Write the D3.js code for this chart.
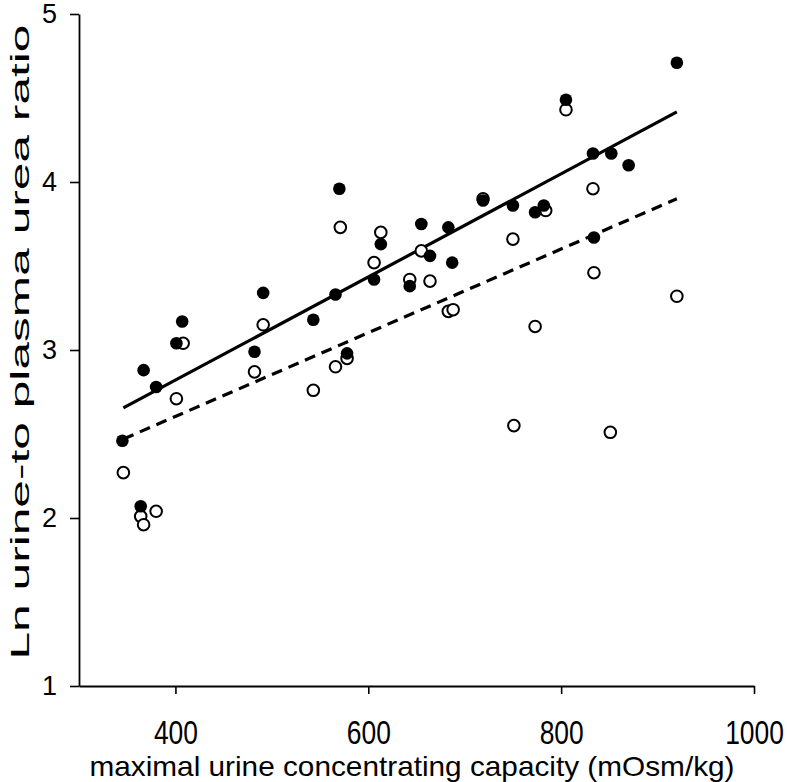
<!DOCTYPE html>
<html>
<head>
<meta charset="utf-8">
<script src="https://cdn.jsdelivr.net/npm/d3@7"></script>
<style>
html,body{margin:0;padding:0;background:#fff;}
svg{display:block;}
</style>
</head>
<body>
<svg id="chart" width="787" height="782"></svg>
<script>
// Filled circles (series 1)
const filledX = [345,364,367,380,401,407,482,491,543,566,570,578,606,613,643,655,664,683,687,719,750,773,782,805,833,834,852,870,920];
const filledY = [2.46,2.07,2.88,2.78,3.04,3.17,2.99,3.34,3.18,3.33,3.96,2.98,3.42,3.63,3.38,3.75,3.56,3.73,3.52,3.89,3.86,3.82,3.86,4.49,4.17,3.67,4.17,4.10,4.71];
// Open circles (series 2)
const openX = [346,364,367,380,401,408,482,491,543,566,571,578,606,613,643,655,664,683,688,719,750,751,773,784,805,833,834,851,920];
const openY = [2.27,2.01,1.96,2.04,2.71,3.04,2.87,3.15,2.76,2.90,3.73,2.95,3.52,3.70,3.42,3.59,3.41,3.23,3.24,3.90,3.66,2.55,3.14,3.83,4.43,3.96,3.46,2.51,3.32];
// Regression lines [x0, x1], [y0, y1]
const solidLineX = [346, 920];
const solidLineY = [2.655, 4.417];
const dashedLineX = [346, 920];
const dashedLineY = [2.47, 3.90];
// Axes
const xTicks = [400, 600, 800, 1000];
const yTicks = [1, 2, 3, 4, 5];
const xDomain = [300, 1000];
const yDomain = [1, 5];
const xLabel = "maximal urine concentrating capacity (mOsm/kg)";
const yLabel = "Ln urine-to plasma urea ratio";

const svg = d3.select("#chart");
const x = d3.scaleLinear().domain(xDomain).range([79, 754]);
const y = d3.scaleLinear().domain(yDomain).range([686, 14]);
const FONT = "'Liberation Sans', Arial, Helvetica, sans-serif";

// X axis
const gx = svg.append("g").attr("transform", "translate(0,686)")
  .call(d3.axisBottom(x).tickValues(xTicks).tickFormat(d3.format("d"))
    .tickSize(8).tickPadding(28).tickSizeOuter(0));
gx.select(".domain").attr("stroke", "#000").attr("stroke-width", 1.8);
gx.selectAll(".tick line").attr("stroke", "#000").attr("stroke-width", 1.6);
gx.selectAll(".tick text").attr("font-family", FONT)
  .attr("font-size", 33).attr("fill", "#000")
  .attr("dy", null).attr("y", 58)
  .attr("transform", "scale(0.8,1)");

// Y axis
const gy = svg.append("g").attr("transform", "translate(79,0)")
  .call(d3.axisLeft(y).tickValues(yTicks).tickFormat(d3.format("d"))
    .tickSize(9).tickPadding(13).tickSizeOuter(0));
gy.select(".domain").attr("stroke", "#000").attr("stroke-width", 1.8);
gy.selectAll(".tick line").attr("stroke", "#000").attr("stroke-width", 1.6);
gy.selectAll(".tick text").attr("font-family", FONT)
  .attr("font-size", 27).attr("fill", "#000");

// Axis labels
svg.append("text").attr("x", 412).attr("y", 776).attr("text-anchor", "middle")
  .attr("font-family", FONT).attr("font-size", 28)
  .attr("textLength", 645).attr("lengthAdjust", "spacingAndGlyphs")
  .attr("fill", "#000").text(xLabel);
svg.append("text").attr("transform", "translate(29,342) rotate(-90)").attr("text-anchor", "middle")
  .attr("font-family", FONT).attr("font-size", 25)
  .attr("textLength", 635).attr("lengthAdjust", "spacingAndGlyphs")
  .attr("fill", "#000").text(yLabel);

// Regression lines
const line = d3.line().x(d => x(d[0])).y(d => y(d[1]));
svg.append("path").datum(d3.zip(solidLineX, solidLineY)).attr("d", line)
  .attr("fill", "none").attr("stroke", "#000").attr("stroke-width", 3.2);
svg.append("path").datum(d3.zip(dashedLineX, dashedLineY)).attr("d", line)
  .attr("fill", "none").attr("stroke", "#000").attr("stroke-width", 3.2)
  .attr("stroke-dasharray", "11,7");

// Open circles
svg.append("g").selectAll("circle").data(d3.zip(openX, openY)).join("circle")
  .attr("cx", d => x(d[0])).attr("cy", d => y(d[1])).attr("r", 5.8)
  .attr("fill", "#fff").attr("stroke", "#000").attr("stroke-width", 2);

// Filled circles
svg.append("g").selectAll("circle").data(d3.zip(filledX, filledY)).join("circle")
  .attr("cx", d => x(d[0])).attr("cy", d => y(d[1])).attr("r", 6.3)
  .attr("fill", "#000");
</script>
</body>
</html>
